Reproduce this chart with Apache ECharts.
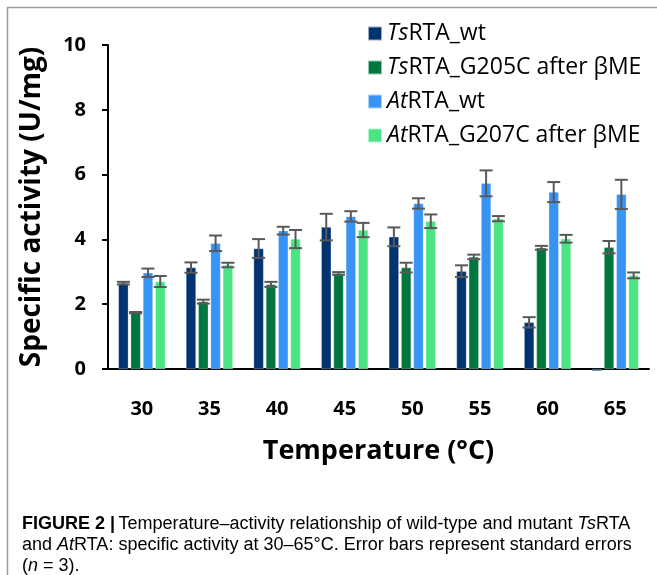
<!DOCTYPE html>
<html>
<head>
<meta charset="utf-8">
<script src="https://cdn.jsdelivr.net/npm/echarts@6/dist/echarts.min.js"></script>
<style>
  html, body { margin: 0; padding: 0; background: #fff; }
  #main { width: 657px; height: 575px; }
</style>
</head>
<body>
<div id="main"></div>
<script>
// categories (temperature, °C)
var temps = ['30', '35', '40', '45', '50', '55', '60', '65']

// series names, split so the organism prefix can be italic
var seriesNames = ['TsRTA_wt', 'TsRTA_G205C after βME', 'AtRTA_wt', 'AtRTA_G207C after βME']
var namePrefix = ['Ts', 'Ts', 'At', 'At']
var nameRest = ['RTA_wt', 'RTA_G205C after βME', 'RTA_wt', 'RTA_G207C after βME']

// specific activity (U/mg)
var tsWt = [2.65, 3.13, 3.72, 4.38, 4.08, 3.02, 1.44, -0.06]
var tsG205C = [1.74, 2.08, 2.61, 2.95, 3.13, 3.46, 3.74, 3.76]
var atWt = [2.97, 3.88, 4.27, 4.71, 5.11, 5.73, 5.46, 5.39]
var atG207C = [2.70, 3.21, 4.01, 4.29, 4.56, 4.64, 4.02, 2.89]

// standard errors
var tsWtErr = [0.04, 0.16, 0.29, 0.41, 0.29, 0.18, 0.16, 0]
var tsG205CErr = [0.02, 0.06, 0.08, 0.04, 0.15, 0.07, 0.06, 0.19]
var atWtErr = [0.13, 0.24, 0.12, 0.16, 0.16, 0.40, 0.31, 0.45]
var atG207CErr = [0.17, 0.07, 0.28, 0.22, 0.21, 0.08, 0.12, 0.09]

var colors = ['#003370', '#00763f', '#3794f5', '#4ae483']
var values = [tsWt, tsG205C, atWt, atG207C]
var errors = [tsWtErr, tsG205CErr, atWtErr, atG207CErr]

var barW = 10
var barGapPx = 2.3
var font = 'Open Sans'
var capFont = 'Liberation Sans'

var myChart = echarts.init(document.getElementById('main'))

function errorBar(k) {
    return function (params, api) {
        var cx = api.coord([api.value(0), 0])[0] + (k - 1.5) * (barW + barGapPx)
        var v = api.value(1)
        var e = api.value(2)
        if (!e) return
        var yHi = api.coord([api.value(0), v + e])[1]
        var yLo = api.coord([api.value(0), v - e])[1]
        var hw = 6.5
        var style = { stroke: '#595959', lineWidth: 2 }
        return {
            type: 'group',
            children: [
                { type: 'line', shape: { x1: cx, y1: yHi, x2: cx, y2: yLo }, style: style },
                { type: 'line', shape: { x1: cx - hw, y1: yHi, x2: cx + hw, y2: yHi }, style: style },
                { type: 'line', shape: { x1: cx - hw, y1: yLo, x2: cx + hw, y2: yLo }, style: style }
            ]
        }
    }
}

var series = []
for (var k = 0; k < 4; k++) {
    series.push({
        name: seriesNames[k],
        type: 'bar',
        data: values[k],
        barWidth: barW,
        barGap: (barGapPx / barW * 100) + '%',
        clip: false,
        itemStyle: { color: colors[k], borderColor: 'rgba(255,255,255,0.6)', borderWidth: 0.5 }
    })
}
for (var k = 0; k < 4; k++) {
    series.push({
        name: 'err' + k,
        type: 'custom',
        renderItem: errorBar(k),
        encode: { x: 0, y: 1 },
        z: 5,
        data: values[k].map(function (v, i) { return [i, v, errors[k][i]] })
    })
}

var option = {
    animation: false,
    textStyle: { fontFamily: font },
    grid: { left: 108, right: 8, top: 45, bottom: 206 },
    legend: {
        data: seriesNames,
        orient: 'vertical',
        left: 362,
        top: 17,
        itemWidth: 14,
        itemHeight: 14,
        itemGap: 11,
        icon: 'rect',
        formatter: function (name) {
            var i = seriesNames.indexOf(name)
            return '{it|' + namePrefix[i] + '}{n|' + nameRest[i] + '}'
        },
        textStyle: {
            rich: {
                it: { fontFamily: font, fontStyle: 'italic', fontSize: 23, color: '#000', lineHeight: 24 },
                n: { fontFamily: font, fontSize: 23, color: '#000', lineHeight: 24 }
            }
        }
    },
    xAxis: {
        type: 'category',
        data: temps,
        name: 'Temperature (°C)',
        nameLocation: 'middle',
        nameGap: 69,
        nameTextStyle: { fontFamily: font, fontSize: 27, fontWeight: 'bold', color: '#000' },
        axisLine: { lineStyle: { color: '#000', width: 2 } },
        axisTick: { show: false },
        axisLabel: { margin: 30, fontFamily: font, fontSize: 20, fontWeight: 'bold', color: '#000' }
    },
    yAxis: {
        type: 'value',
        min: 0,
        max: 10,
        interval: 2,
        name: 'Specific activity (U/mg)',
        nameLocation: 'middle',
        nameGap: 62,
        nameTextStyle: { fontFamily: font, fontSize: 28, fontWeight: 'bold', color: '#000' },
        axisLine: { show: true, lineStyle: { color: '#000', width: 2 } },
        axisTick: { show: true, length: 6, lineStyle: { color: '#000', width: 2 } },
        axisLabel: { margin: 22, fontFamily: font, fontSize: 20, fontWeight: 'bold', color: '#000' },
        splitLine: { show: false }
    },
    graphic: [
        {
            type: 'rect',
            shape: { x: 7.5, y: 7.5, width: 700, height: 700 },
            style: { fill: 'none', stroke: '#9a9a9a', lineWidth: 1.5 },
            silent: true
        },
        {
            type: 'text',
            left: 22,
            top: 515,
            style: {
                text: '{b|FIGURE 2 |} {r|Temperature–activity relationship of wild-type and mutant }{i|Ts}{r|RTA}\n' +
                      '{r|and }{i|At}{r|RTA: specific activity at 30–65°C. Error bars represent standard errors}\n' +
                      '{r|(}{i|n}{r| = 3).}',
                rich: {
                    b: { fontFamily: capFont, fontSize: 18, fontWeight: 'bold', color: '#333', lineHeight: 21 },
                    r: { fontFamily: capFont, fontSize: 18, color: '#444', lineHeight: 21 },
                    i: { fontFamily: capFont, fontSize: 18, fontStyle: 'italic', color: '#444', lineHeight: 21 }
                }
            }
        }
    ],
    series: series
}

option && myChart.setOption(option, true)
</script>
</body>
</html>
